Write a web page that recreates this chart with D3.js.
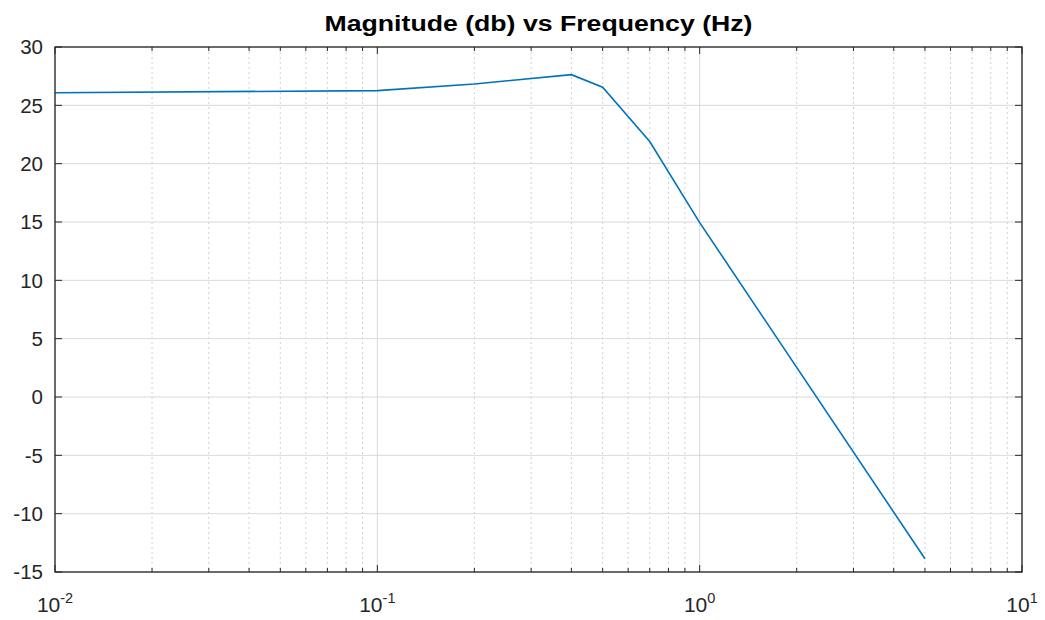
<!DOCTYPE html>
<html>
<head>
<meta charset="utf-8">
<script src="https://cdn.jsdelivr.net/npm/d3@7"></script>
<style>
  body { margin: 0; background: #fff; }
  svg { font-family: "Liberation Sans", Arial, sans-serif; }
</style>
</head>
<body>
<svg id="chart" width="1045" height="620"></svg>
<script>
// frequency (Hz) and magnitude (db)
const freqs = [0.01, 0.1, 0.2, 0.4, 0.5, 0.7, 1, 5];
const mags = [26.08, 26.26, 26.83, 27.63, 26.55, 21.9, 14.95, -13.87];
const yTicks = [-15, -10, -5, 0, 5, 10, 15, 20, 25, 30];
const xDecades = [-2, -1, 0, 1];
const titleText = "Magnitude (db) vs Frequency (Hz)";

const svg = d3.select("#chart");
const margin = { top: 47, right: 23, bottom: 48, left: 55 };
const width = 1045 - margin.left - margin.right;
const height = 620 - margin.top - margin.bottom;

const x = d3.scaleLog().domain([0.01, 10]).range([0, width]);
const y = d3.scaleLinear().domain([-15, 30]).range([height, 0]);

const g = svg.append("g").attr("transform", `translate(${margin.left},${margin.top})`);

// minor log ticks 2..9 in each decade
const minorTicks = [];
xDecades.slice(0, -1).forEach(p => {
  for (let k = 2; k <= 9; k++) minorTicks.push(k * Math.pow(10, p));
});
const majorX = xDecades.map(p => Math.pow(10, p));

// minor grid (dotted)
g.append("g").selectAll("line").data(minorTicks).join("line")
  .attr("x1", d => x(d)).attr("x2", d => x(d))
  .attr("y1", 0).attr("y2", height)
  .attr("stroke", "#d0d0d0").attr("stroke-width", 1)
  .attr("stroke-dasharray", "2,3");

// major grid
g.append("g").selectAll("line").data(majorX).join("line")
  .attr("x1", d => x(d)).attr("x2", d => x(d))
  .attr("y1", 0).attr("y2", height)
  .attr("stroke", "#d9d9d9").attr("stroke-width", 1);
g.append("g").selectAll("line").data(yTicks).join("line")
  .attr("x1", 0).attr("x2", width)
  .attr("y1", d => y(d)).attr("y2", d => y(d))
  .attr("stroke", "#d9d9d9").attr("stroke-width", 1);

// the curve
const line = d3.line().x((d, i) => x(freqs[i])).y(d => y(d));
g.append("path").datum(mags)
  .attr("d", line)
  .attr("fill", "none")
  .attr("stroke", "#0072BD")
  .attr("stroke-width", 1.6);

// box
g.append("rect").attr("width", width).attr("height", height)
  .attr("fill", "none").attr("stroke", "#262626").attr("stroke-width", 1.3);

// ticks pointing inward on all four sides
const tickColor = "#262626";
const ticks = g.append("g").attr("stroke", tickColor).attr("stroke-width", 1);
majorX.forEach(v => {
  ticks.append("line").attr("x1", x(v)).attr("x2", x(v)).attr("y1", height).attr("y2", height - 7);
  ticks.append("line").attr("x1", x(v)).attr("x2", x(v)).attr("y1", 0).attr("y2", 7);
});
minorTicks.forEach(v => {
  ticks.append("line").attr("x1", x(v)).attr("x2", x(v)).attr("y1", height).attr("y2", height - 4);
  ticks.append("line").attr("x1", x(v)).attr("x2", x(v)).attr("y1", 0).attr("y2", 4);
});
yTicks.forEach(v => {
  ticks.append("line").attr("x1", 0).attr("x2", 7).attr("y1", y(v)).attr("y2", y(v));
  ticks.append("line").attr("x1", width).attr("x2", width - 7).attr("y1", y(v)).attr("y2", y(v));
});

// y tick labels
g.append("g").selectAll("text").data(yTicks).join("text")
  .attr("x", -12).attr("y", d => y(d))
  .attr("dy", "0.36em")
  .attr("text-anchor", "end")
  .attr("font-size", 20.5)
  .attr("fill", tickColor)
  .text(d => d);

// x tick labels as 10^p
const xl = g.append("g").selectAll("text").data(xDecades).join("text")
  .attr("x", d => x(Math.pow(10, d)))
  .attr("y", height + 40)
  .attr("text-anchor", "middle")
  .attr("font-size", 21)
  .attr("fill", tickColor);
xl.append("tspan").text("10");
xl.append("tspan").attr("dy", -9).attr("font-size", 14.5).text(d => d);

// title
svg.append("text")
  .attr("x", margin.left + width / 2)
  .attr("y", 31)
  .attr("text-anchor", "middle")
  .attr("font-size", 21.5)
  .attr("font-weight", "bold")
  .attr("textLength", 428)
  .attr("lengthAdjust", "spacingAndGlyphs")
  .attr("fill", "#000")
  .text(titleText);
</script>
</body>
</html>
